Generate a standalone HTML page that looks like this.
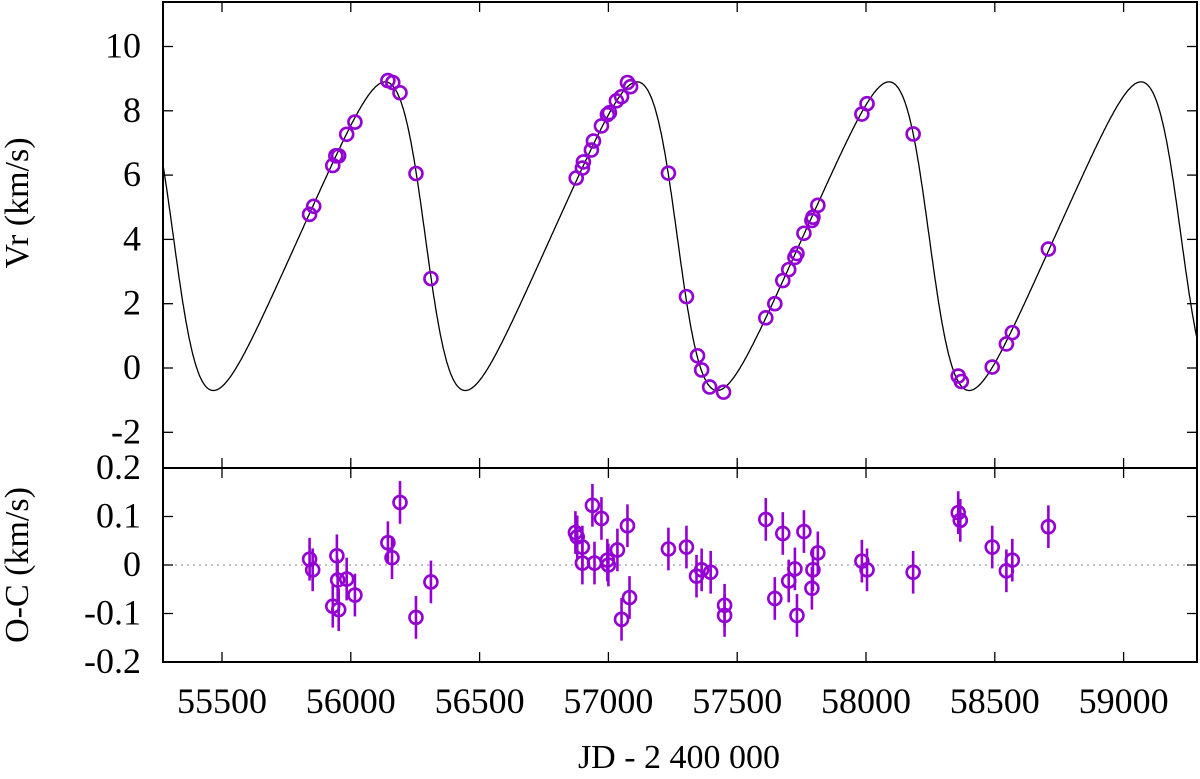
<!DOCTYPE html>
<html><head><meta charset="utf-8"><style>
html,body{margin:0;padding:0;background:#fff}
svg{display:block}
text{font-family:"Liberation Serif","DejaVu Serif",serif;fill:#000}
</style></head><body>
<svg id="chart" width="1200" height="779" viewBox="0 0 1200 779" xmlns="http://www.w3.org/2000/svg" font-family="Liberation Serif, DejaVu Serif, serif">
<g id="top-panel"></g>
<g id="bot-panel"></g>
<text x="0" y="0" transform="translate(28,203) rotate(-90)" text-anchor="middle" font-size="34">Vr (km/s)</text>
<text x="0" y="0" transform="translate(28,565) rotate(-90)" text-anchor="middle" font-size="34">O-C (km/s)</text>
<text x="679" y="768" text-anchor="middle" font-size="34">JD - 2 400 000</text>
</svg>
<script>
const xTicks = [55500, 56000, 56500, 57000, 57500, 58000, 58500, 59000];
const vTicks = [10, 8, 6, 4, 2, 0, -2];
const ocTicks = [0.2, 0.1, 0, -0.1, -0.2];
const ocTickLabels = ["0.2", "0.1", "0", "-0.1", "-0.2"];
const rvJD = [55840,55856,55930,55942,55953,55984,56016,56144,56163,56191,56253,56311,
 56875,56899,56903,56934,56942,56973,56996,57004,57031,57051,57074,57086,57233,57303,57346,57362,57393,57447,
 57611,57646,57677,57700,57724,57732,57759,57790,57794,57813,57984,58004,58183,58358,58370,58490,58545,58568,58708];
const rvV = [4.78,5.03,6.3,6.6,6.6,7.27,7.65,8.94,8.88,8.56,6.05,2.78,
 5.91,6.22,6.41,6.78,7.06,7.53,7.88,7.94,8.31,8.44,8.88,8.75,6.06,2.22,0.38,-0.06,-0.59,-0.75,
 1.56,2.0,2.72,3.06,3.44,3.56,4.19,4.59,4.69,5.06,7.9,8.22,7.28,-0.25,-0.42,0.03,0.75,1.1,3.7];
const ocJD = [55840,55852,55946,55930,55949,55953,55984,56016,56144,56160,56191,56253,56311,
 56872,56879,56899,56899,56938,56946,56973,56996,57000,57035,57051,57074,57082,57233,57303,57342,57362,57397,57451,57451,
 57611,57646,57677,57700,57724,57732,57759,57794,57790,57813,57984,58004,58183,58358,58366,58490,58545,58568,58708];
const ocV = [0.012,-0.010,0.019,-0.085,-0.031,-0.092,-0.029,-0.062,0.046,0.015,0.129,-0.108,-0.035,
 0.067,0.058,0.037,0.004,0.123,0.004,0.096,0.010,0.0,0.031,-0.112,0.081,-0.067,0.033,0.037,-0.023,-0.010,-0.015,-0.083,-0.104,
 0.094,-0.069,0.065,-0.033,-0.008,-0.104,0.069,-0.010,-0.048,0.025,0.008,-0.010,-0.015,0.108,0.092,0.037,-0.012,0.010,0.079];
const ocErr = 0.044;
const orbitP = [978, 56289, 0.29, 90, 4.8, 4.1]; // period, T0, e, omega, K, gamma

const NS="http://www.w3.org/2000/svg";
const L=163,R=1197,T1=2,B1=468,T2=468,B2=662;
const xS=j=>222+(j-55500)*0.2576;
const yV=v=>368-v*32.15;
const yO=o=>565-o*485;
function mk(parent,tag,attrs){const e=document.createElementNS(NS,tag);for(const k in attrs)e.setAttribute(k,attrs[k]);parent.appendChild(e);return e;}
const topG=document.getElementById('top-panel'), botG=document.getElementById('bot-panel');

const defs=mk(document.getElementById('chart'),'defs',{});
const c1=mk(defs,'clipPath',{id:'c1'});mk(c1,'rect',{x:L,y:T1,width:R-L,height:B1-T1});

function vel(t){const [P,T0,e,w,K,g]=orbitP;let M=2*Math.PI*((t-T0)/P);M=M-2*Math.PI*Math.floor(M/(2*Math.PI));let E=M;for(let i=0;i<30;i++)E=E-(E-e*Math.sin(E)-M)/(1-e*Math.cos(E));
 const nu=2*Math.atan2(Math.sqrt(1+e)*Math.sin(E/2),Math.sqrt(1-e)*Math.cos(E/2));const wr=w*Math.PI/180;return g+K*(Math.cos(nu+wr)+e*Math.cos(wr));}
let d='';for(let t=55200;t<=59350;t+=2){d+=(d?'L':'M')+xS(t).toFixed(1)+','+yV(vel(t)).toFixed(1);}
const curve=mk(topG,'path',{d:d,fill:'none',stroke:'#000','stroke-width':1.3,'clip-path':'url(#c1)'});



const zl=mk(botG,'line',{x1:L,x2:R,y1:yO(0),y2:yO(0),stroke:'#888','stroke-width':1,'stroke-dasharray':'2,4'});



for(let i=0;i<rvJD.length;i++){
 const c=mk(topG,'circle',{cx:xS(rvJD[i]),cy:yV(rvV[i]),r:6.5,fill:'none',stroke:'#9400d3','stroke-width':2.6});
 
 
}
for(let i=0;i<ocJD.length;i++){
 const x=xS(ocJD[i]);
 const g=mk(botG,'g',{});
 
 
 mk(g,'line',{x1:x,x2:x,y1:yO(ocV[i]+ocErr),y2:yO(ocV[i]-ocErr),stroke:'#9400d3','stroke-width':2.6});
 mk(g,'circle',{cx:x,cy:yO(ocV[i]),r:6.5,fill:'none',stroke:'#9400d3','stroke-width':2.6});
}

for(const [g,t,b,nm] of [[topG,T1,B1,'velocity-frame'],[botG,T2,B2,'residual-frame']]){
 const r=mk(g,'rect',{x:L,y:t,width:R-L,height:b-t,fill:'none',stroke:'#000','stroke-width':2});
 
 
 for(const j of xTicks){const x=xS(j);mk(g,'line',{x1:x,x2:x,y1:t,y2:t+10,stroke:'#000','stroke-width':1.3});mk(g,'line',{x1:x,x2:x,y1:b,y2:b-10,stroke:'#000','stroke-width':1.3});}
}
const FF='Liberation Serif, DejaVu Serif, serif';
for(const v of vTicks){const y=yV(v);mk(topG,'line',{x1:L,x2:L+10,y1:y,y2:y,stroke:'#000','stroke-width':1.3});mk(topG,'line',{x1:R,x2:R-10,y1:y,y2:y,stroke:'#000','stroke-width':1.3});
 const tx=mk(topG,'text',{x:141,y:y+11,'text-anchor':'end','font-size':36,'font-family':FF});tx.textContent=String(v);
 
 }
ocTicks.forEach((v,i)=>{const y=yO(v);mk(botG,'line',{x1:L,x2:L+10,y1:y,y2:y,stroke:'#000','stroke-width':1.3});mk(botG,'line',{x1:R,x2:R-10,y1:y,y2:y,stroke:'#000','stroke-width':1.3});
 const tx=mk(botG,'text',{x:141,y:y+11,'text-anchor':'end','font-size':36,'font-family':FF});tx.textContent=ocTickLabels[i];
 
 });
for(const j of xTicks){const tx=mk(botG,'text',{x:xS(j),y:713,'text-anchor':'middle','font-size':36,'font-family':FF});tx.textContent=j;
 
 }
</script>
</body></html>
